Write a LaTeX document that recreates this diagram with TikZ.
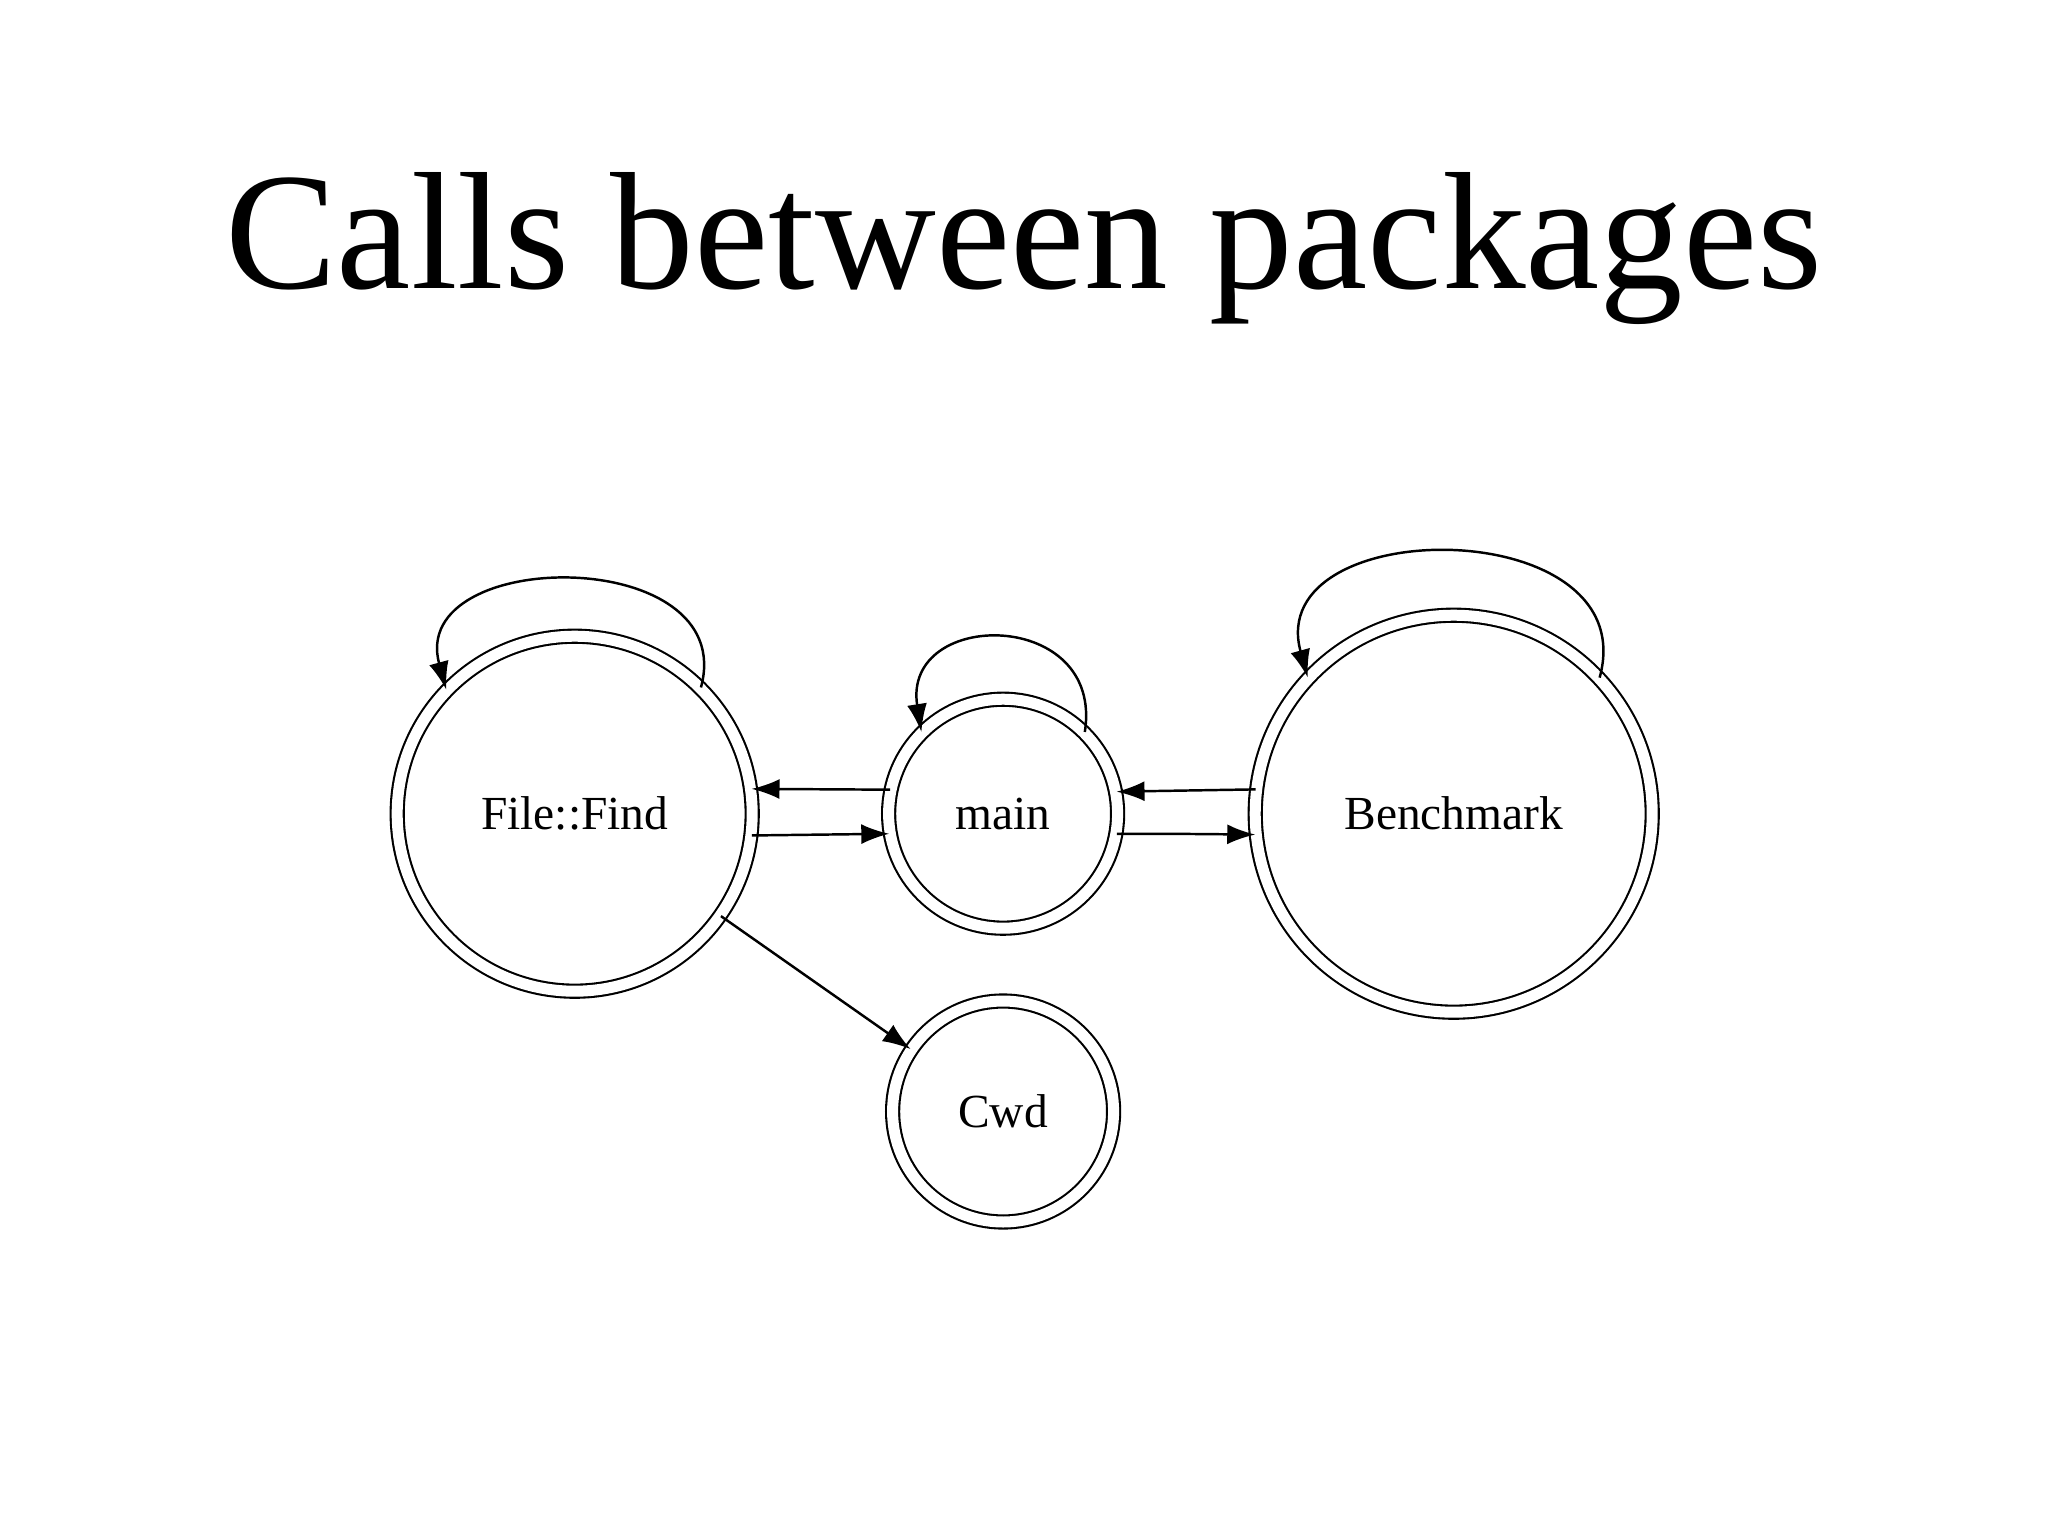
\documentclass[tikz,border=0pt]{standalone}
\usepackage{fontspec}
\setmainfont{Liberation Serif}
\usetikzlibrary{arrows.meta}
\begin{document}
\begin{tikzpicture}[x=0.01306cm,y=-0.01306cm,
  pk/.style={circle,draw=black,line width=0.6pt,double=white,double distance=0.11cm,inner sep=0pt,font=\fontsize{13.5}{15}\selectfont},
  ar/.style={line width=0.7pt,-{Latex[length=0.28cm,width=0.2cm]}}]
\useasboundingbox (0,0) rectangle (1568,1176);
\node (title) at (784,190) {\resizebox{15.97cm}{!}{Calls between packages}};
\node[pk,minimum size=3.55cm] (ff) at (440,623) {File::Find};
\node[pk,minimum size=2.29cm] (main) at (768,623) {main};
\node[pk,minimum size=3.97cm] (bm) at (1113,623) {Benchmark};
\node[pk,minimum size=2.21cm] (cwd) at (768,851) {Cwd};
\draw[ar] (main.168) -- (ff.8);
\draw[ar] (ff.-7) -- (main.190);
\draw[ar] (bm.173) -- (main.11);
\draw[ar] (main.-10) .. controls +(40,0) .. (bm.186);
\draw[ar] (ff.-35) -- (cwd.146);
\draw[ar] (ff.45) .. controls +(30,-110) and +(-30,-110) .. (ff.136);
\draw[ar] (main.45) .. controls +(15,-95) and +(-15,-95) .. (main.135);
\draw[ar] (bm.43) .. controls +(35,-127) and +(-35,-127) .. (bm.137);
\end{tikzpicture}
\end{document}
